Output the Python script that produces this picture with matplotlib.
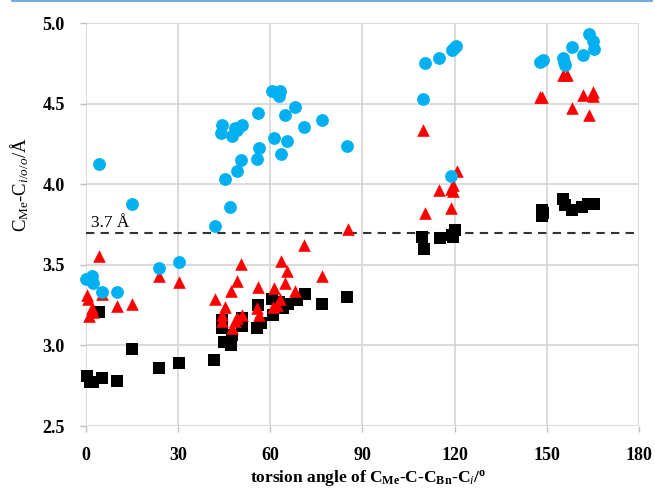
import matplotlib
matplotlib.use("Agg")
import matplotlib.pyplot as plt
from matplotlib.lines import Line2D

plt.rcParams["font.family"] = ["Liberation Serif", "DejaVu Serif"]
plt.rcParams["mathtext.fontset"] = "custom"
plt.rcParams["mathtext.rm"] = "Liberation Serif"
plt.rcParams["mathtext.it"] = "Liberation Serif:italic"
plt.rcParams["mathtext.bf"] = "Liberation Serif:bold"
plt.rcParams["mathtext.default"] = "regular"

# C(Me)...C(i) distances, black squares
sq_x = [0.3, 1.4, 2.5, 5.2, 10.3, 15.2, 4.4, 23.9, 30.4, 41.8,
        45.1, 47.2, 44.3, 44.3, 47.5, 50.8, 50.8, 55.6, 57.0, 56.2,
        61.0, 60.5, 64.3, 65.9, 68.7, 71.4, 76.8, 84.9, 62.9,
        109.5, 110.2, 115.3, 119.1, 120.2, 119.6,
        148.4, 148.4, 148.9, 155.4, 156.0, 158.1, 161.4, 163.5, 165.4]
sq_y = [2.81, 2.775, 2.77, 2.80, 2.78, 2.98, 3.21, 2.86, 2.89, 2.91,
        3.02, 3.00, 3.11, 3.16, 3.065, 3.12, 3.17, 3.11, 3.14, 3.25,
        3.19, 3.29, 3.23, 3.26, 3.28, 3.32, 3.26, 3.30, 3.27,
        3.67, 3.60, 3.665, 3.685, 3.715, 3.67,
        3.84, 3.80, 3.82, 3.91, 3.87, 3.84, 3.86, 3.875, 3.875]

# C(Me)...C(o) distances, red triangles
tri_x = [4.4, 0.5, 0.85, 1.95, 2.3, 1.1, 5.2, 10.3, 15.2, 23.9, 30.4,
         71.1, 50.5, 63.6, 65.4, 76.8, 49.3, 47.2, 56.2, 64.9, 42.1,
         61.3, 68.1, 45.3, 63.2, 62.2, 60.8, 55.6, 56.5, 44.3, 50.8,
         49.3, 44.3, 48.6, 47.5, 85.3,
         109.9, 110.4, 115.1, 118.9, 119.6, 119.6, 120.9, 119.0,
         147.8, 148.6, 155.4, 156.5, 161.7, 158.1, 165.2, 165.0, 163.9]
tri_y = [3.555, 3.31, 3.285, 3.23, 3.21, 3.18, 3.32, 3.245, 3.255, 3.43, 3.395,
         3.62, 3.505, 3.525, 3.46, 3.43, 3.40, 3.335, 3.365, 3.385, 3.29,
         3.355, 3.335, 3.24, 3.285, 3.25, 3.24, 3.23, 3.19, 3.19, 3.19,
         3.17, 3.15, 3.15, 3.105, 3.72,
         4.335, 3.82, 3.965, 3.855, 3.955, 3.995, 4.08, 3.97,
         4.54, 4.54, 4.68, 4.68, 4.555, 4.475, 4.575, 4.545, 4.43]

# C(Me)...C(o') distances, blue circles
cir_x = [0.1, 1.95, 2.5, 5.2, 10.3, 23.9, 30.4, 4.3, 15.2,
         60.5, 63.2, 62.9, 68.1, 56.2, 64.9, 76.8, 71.0, 44.3, 43.9,
         47.5, 49.1, 50.8, 48.6, 61.3, 65.4, 84.9, 56.4, 63.6, 50.5,
         55.6, 49.1, 45.3, 47.0, 42.1,
         110.4, 115.1, 119.1, 120.5, 119.8, 109.9, 118.9,
         147.8, 148.9, 155.4, 156.0, 155.6, 158.1, 161.7, 163.9, 165.2, 165.4]
cir_y = [3.41, 3.43, 3.385, 3.33, 3.33, 3.48, 3.52, 4.125, 3.88,
         4.58, 4.58, 4.545, 4.48, 4.44, 4.43, 4.40, 4.355, 4.37, 4.32,
         4.30, 4.335, 4.37, 4.35, 4.285, 4.27, 4.24, 4.225, 4.19, 4.15,
         4.155, 4.08, 4.03, 3.86, 3.74,
         4.75, 4.785, 4.83, 4.855, 4.845, 4.53, 4.05,
         4.76, 4.77, 4.78, 4.74, 4.76, 4.85, 4.80, 4.93, 4.89, 4.84]

x_ticks = [0, 30, 60, 90, 120, 150, 180]
y_ticks = [2.5, 3.0, 3.5, 4.0, 4.5, 5.0]
cutoff = 3.7

fig = plt.figure(figsize=(6.55, 4.9), dpi=100)
ax = fig.add_axes([0.1308, 0.1306, 0.8447, 0.8224])

ax.scatter(sq_x, sq_y, marker="s", s=72, c="black", linewidths=0,
           zorder=3, clip_on=False)
ax.scatter(tri_x, tri_y, marker="^", s=82, c="#ff0000", linewidths=0,
           zorder=4, clip_on=False)
ax.scatter(cir_x, cir_y, marker="o", s=85, c="#00b0f0", linewidths=0,
           zorder=5, clip_on=False)

ax.axhline(cutoff, color="#333333", lw=1.5, ls=(0, (4, 3)), zorder=2)
ax.text(1.7, cutoff + 0.01, "3.7 Å", fontsize=12.5, ha="left", va="bottom")

ax.set_xlim(0, 180)
ax.set_ylim(2.5, 5.0)
ax.set_xticks(x_ticks)
ax.set_yticks(y_ticks)
ax.set_yticklabels([f"{v:.1f}" for v in y_ticks])
ax.grid(True, color="#d4d4d4", lw=1.2, zorder=0)
ax.set_axisbelow(True)
for s in ax.spines.values():
    s.set_visible(False)
ax.tick_params(axis="both", color="#bfbfbf", length=4, width=1.0,
               labelsize=13, pad=11)
for lab in ax.get_xticklabels() + ax.get_yticklabels():
    lab.set_fontweight("bold")

ax.set_xlabel(r"torsion angle of C$_{Me}$-C-C$_{Bn}$-C$_{\mathit{i}}$/$^{o}$",
              fontsize=12.5, fontweight="bold")
ax.xaxis.set_label_coords(0.51, -0.105)
ax.set_ylabel(r"C$_{Me}$-C$_{\mathit{i/o/o}}$/Å", fontsize=13.5)
ax.yaxis.set_label_coords(-0.098, 0.6)

# thin frame line at the very top of the page
fig.add_artist(Line2D([0.018, 0.995], [0.997, 0.997], color="#5b9bd5",
                      lw=1.2, transform=fig.transFigure))

fig.savefig("out.png", dpi=100)
